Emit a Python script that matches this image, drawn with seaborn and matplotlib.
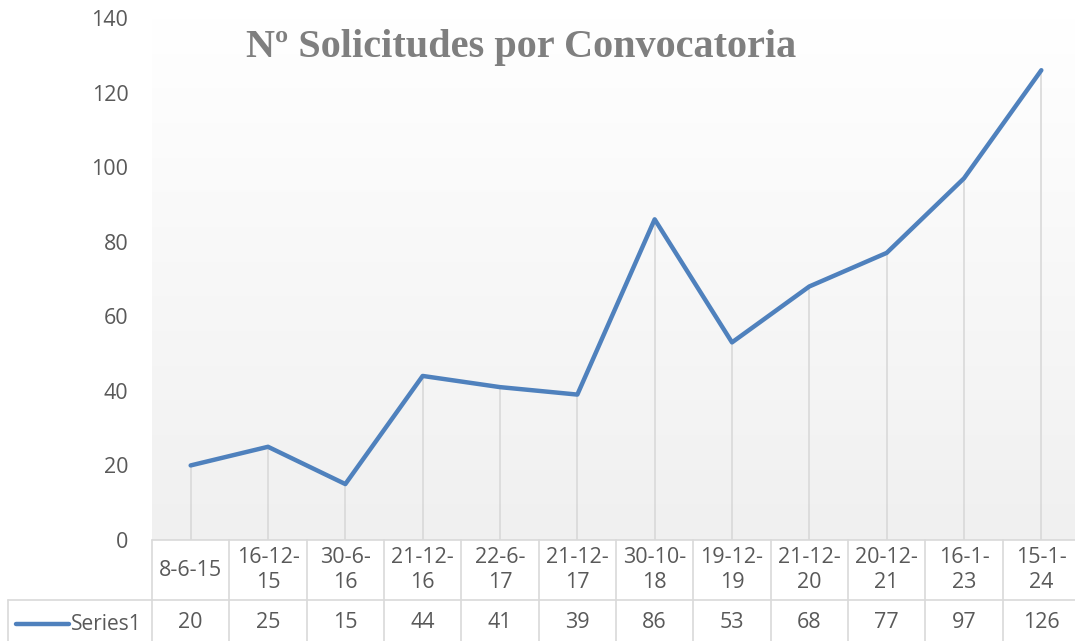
import matplotlib
matplotlib.use("Agg")
import matplotlib.pyplot as plt
import matplotlib.transforms as mtransforms
import numpy as np
import pandas as pd
import seaborn as sns

# Data
fechas = ["8-6-15", "16-12-15", "30-6-16", "21-12-16", "22-6-17", "21-12-17",
          "30-10-18", "19-12-19", "21-12-20", "20-12-21", "16-1-23", "15-1-24"]
solicitudes = [20, 25, 15, 44, 41, 39, 86, 53, 68, 77, 97, 126]
serie = "Series1"
titulo = "Nº Solicitudes por Convocatoria"
yticks = [0, 20, 40, 60, 80, 100, 120, 140]

df = pd.DataFrame({"pos": range(len(fechas)), "fecha": fechas, "valor": solicitudes})

sns.set_style("white")
plt.rcParams["font.family"] = ["Open Sans", "DejaVu Sans"]

W, H = 1075, 641
fig = plt.figure(figsize=(W / 100, H / 100), dpi=100)
fig.patch.set_facecolor("white")

# plot area in pixel terms
left_px, right_px, top_px, bottom_px = 152, 1080, 18, 540
ax = fig.add_axes([left_px / W, 1 - bottom_px / H,
                   (right_px - left_px) / W, (bottom_px - top_px) / H])
ax.set_facecolor("none")

n = len(fechas)
ax.set_xlim(-0.5, n - 0.5)
ax.set_ylim(0, 140)

# gradient background (white top -> light gray bottom)
grad = np.linspace(0, 1, 256).reshape(-1, 1)
cmap = matplotlib.colors.LinearSegmentedColormap.from_list("g", ["#f0f0f0", "#ffffff"])
ax.imshow(grad, extent=(-0.5, n - 0.5, 0, 140), aspect="auto", origin="lower",
          cmap=cmap, zorder=0)

# drop lines
ax.vlines(df["pos"], 0, df["valor"], color="#d9d9d9", linewidth=1.2, zorder=1)

sns.lineplot(data=df, x="pos", y="valor", color="#4f81bd", linewidth=3.2,
             ax=ax, zorder=3, legend=False)

for s in ax.spines.values():
    s.set_visible(False)
ax.set_xticks([])
ax.set_yticks(yticks)
ax.set_yticklabels([str(t) for t in yticks], fontsize=15.5, color="#595959")
ax.tick_params(axis="y", length=0, pad=17)
ax.set_xlabel("")
ax.set_ylabel("")

fig.text(521 / W, 1 - 48 / H, titulo, ha="center", va="center",
         fontsize=29, fontweight="bold", color="#7f7f7f",
         family=["Liberation Serif", "DejaVu Serif"])

# data table below the plot
tr = mtransforms.blended_transform_factory(ax.transData, fig.transFigure)
y0 = 1 - 540 / H
y1 = 1 - 600 / H
y2 = 0.0
grid_c = "#d9d9d9"
lw = 1.2
edges = np.arange(n + 1) - 0.5
ax.plot([-0.5, n - 0.5], [y0, y0], transform=tr, color=grid_c, lw=lw, clip_on=False)
ax.plot([-0.5, n - 0.5], [y1, y1], transform=tr, color=grid_c, lw=lw, clip_on=False)
for e in edges:
    ax.plot([e, e], [y0, y2], transform=tr, color=grid_c, lw=lw, clip_on=False)
# legend cell
fx = 8 / W
ax.plot([fx, left_px / W], [y1, y1], transform=fig.transFigure, color=grid_c,
        lw=lw, clip_on=False)
ax.plot([fx, fx], [y1, y2], transform=fig.transFigure, color=grid_c, lw=lw,
        clip_on=False)
ax.plot([16 / W, 69 / W], [1 - 624 / H, 1 - 624 / H], transform=fig.transFigure,
        color="#4f81bd", lw=3.2, solid_capstyle="round", clip_on=False)
ax.text(71 / W, 1 - 624 / H, serie, transform=fig.transFigure, ha="left",
        va="center", fontsize=15, color="#595959")

for i, (f, v) in enumerate(zip(fechas, solicitudes)):
    lab = f if len(f) <= 6 else f.rsplit("-", 1)[0] + "-\n" + f.rsplit("-", 1)[1]
    ax.text(i, (y0 + y1) / 2, lab, transform=tr, ha="center", va="center",
            fontsize=15.5, color="#595959", linespacing=1.25)
    ax.text(i, 1 - 623 / H, str(v), transform=tr, ha="center", va="center",
            fontsize=15.5, color="#595959")

fig.savefig("out.png", dpi=100)
